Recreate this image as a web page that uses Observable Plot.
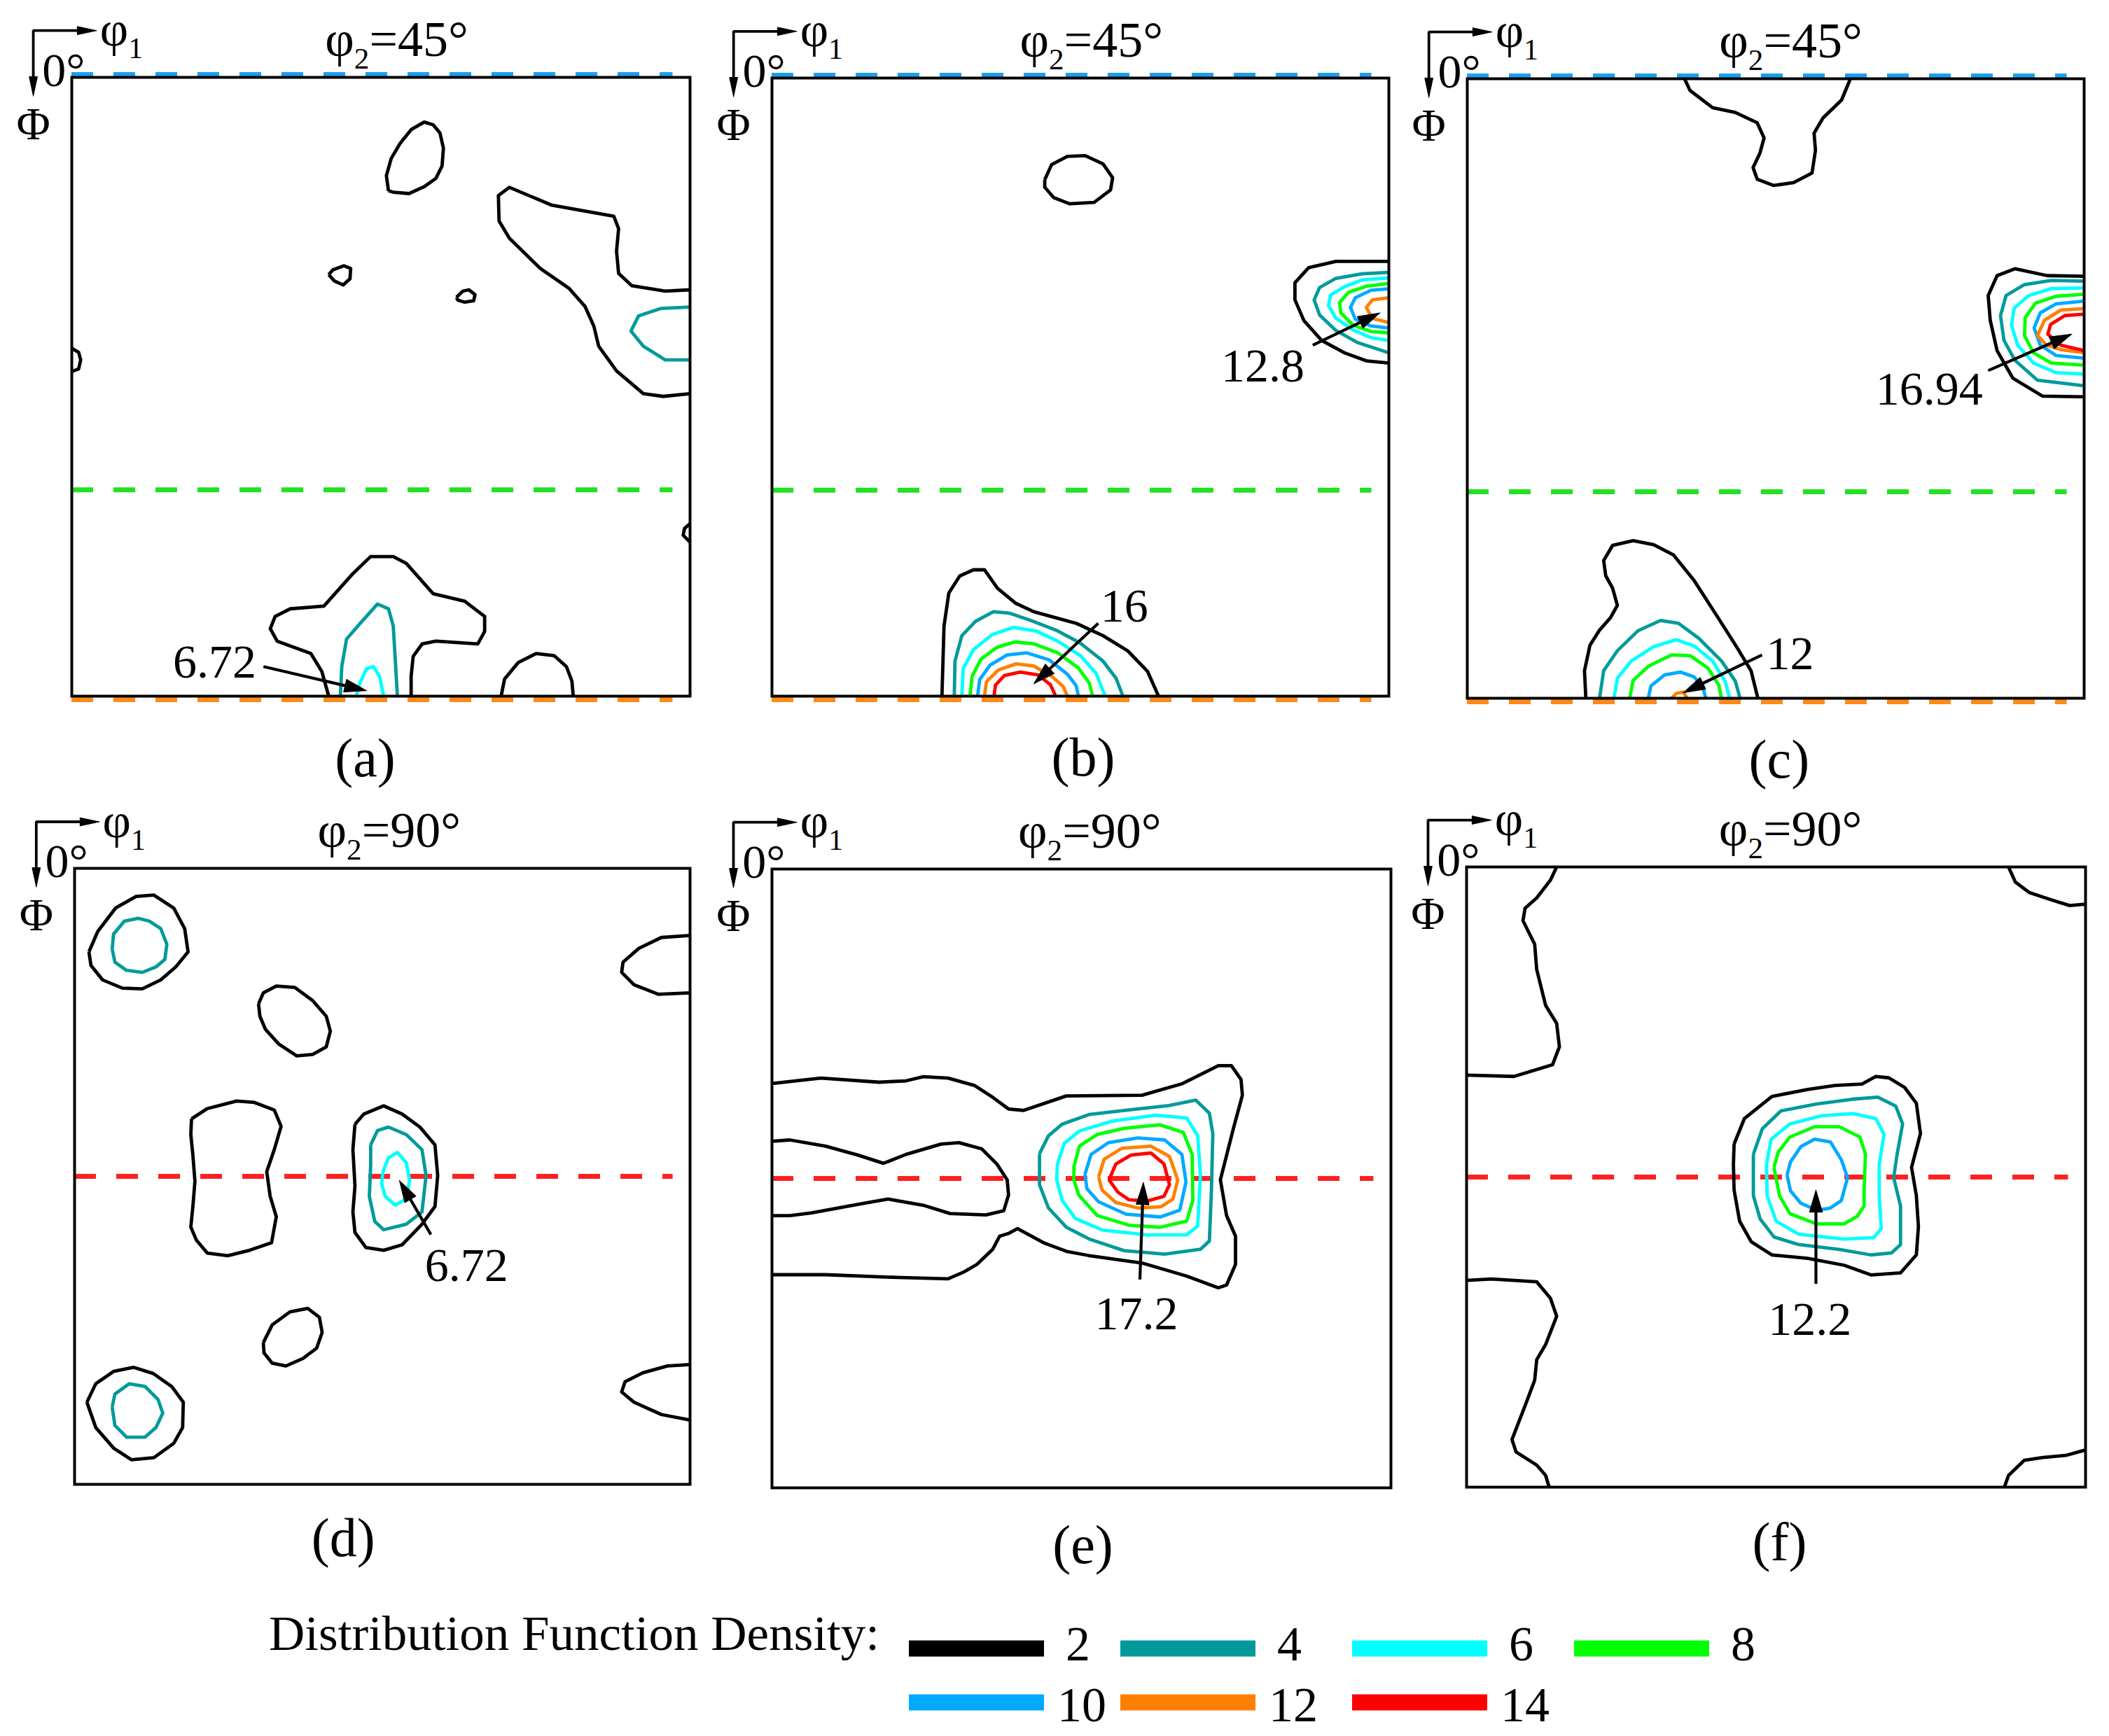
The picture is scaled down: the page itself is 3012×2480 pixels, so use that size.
<!DOCTYPE html>
<html><head><meta charset="utf-8">
<script src="https://cdn.jsdelivr.net/npm/d3@7"></script>
<script src="https://cdn.jsdelivr.net/npm/@observablehq/plot@0.6"></script>
<style>
html,body{margin:0;padding:0;background:#fff;}
#page{position:relative;width:3012px;height:2480px;background:#fff;overflow:hidden;font-family:"Liberation Serif","Times New Roman",serif;}
.panel{position:absolute;}
.panel svg{max-width:none !important;}
</style></head><body><div id="page"></div>
<script>
// ---------------- DATA ----------------
const levels = [2, 4, 6, 8, 10, 12, 14];
const levelColors = ["#000000", "#009a9a", "#00ffff", "#00ff00", "#00aaff", "#ff8000", "#ff0000"];
const panelIds = ["a", "b", "c", "d", "e", "f"];
const phi2Values = ["45°", "45°", "45°", "90°", "90°", "90°"];

// reference lines (Φ in degrees)
const guideLines = [
  {panel: "a", phi: 0, kind: "top"}, {panel: "a", phi: 60, kind: "gamma"}, {panel: "a", phi: 90, kind: "bottom"},
  {panel: "b", phi: 0, kind: "top"}, {panel: "b", phi: 60, kind: "gamma"}, {panel: "b", phi: 90, kind: "bottom"},
  {panel: "c", phi: 0, kind: "top"}, {panel: "c", phi: 60, kind: "gamma"}, {panel: "c", phi: 90, kind: "bottom"},
  {panel: "d", phi: 45, kind: "mid"}, {panel: "e", phi: 45, kind: "mid"}, {panel: "f", phi: 45, kind: "mid"}
];

// contour polylines: points are [φ1, Φ] in degrees
const contoursA = [
  {level: 2, closed: true, pts: [[46.1,16.5],[45.8,14.3],[46.5,11.8],[47.8,9.6],[49.4,7.6],[51.3,6.5],[52.6,6.9],[53.6,8.1],[54.1,10.3],[53.9,12.9],[53.0,14.7],[51.3,15.9],[49.1,16.9],[46.8,16.7]]},
  {level: 2, closed: false, pts: [[90,30.9],[86.4,31.1],[81.5,30.3],[79.6,28.5],[79.3,25.3],[79.6,22.0],[78.9,20.2],[69.9,18.6],[63.7,16.0],[62.1,17.2],[62.2,20.9],[63.7,23.4],[68.2,27.8],[72.4,30.7],[74.7,33.3],[76.0,36.2],[76.7,39.1],[79.3,42.7],[83.2,46.0],[86.1,46.4],[90,46.0]]},
  {level: 4, closed: false, pts: [[90,33.4],[85.8,33.6],[82.5,34.7],[81.4,36.9],[83.2,39.1],[86.4,41.1],[90,41.1]]},
  {level: 2, closed: true, pts: [[37.4,28.7],[38.0,28.0],[39.6,27.4],[40.6,27.8],[40.5,29.3],[39.5,30.2],[38.2,29.6]]},
  {level: 2, closed: true, pts: [[56.0,32.0],[56.9,31.1],[57.8,30.9],[58.7,31.6],[58.5,32.5],[57.2,32.7],[56.2,32.4]]},
  {level: 2, closed: false, pts: [[0,39.4],[1.0,40.0],[1.3,41.1],[1.0,42.4],[0,42.8]]},
  {level: 2, closed: false, pts: [[90,64.9],[89.2,65.6],[89.0,66.6],[90,67.6]]},
  {level: 2, closed: false, pts: [[37.4,90],[36.4,86.4],[34.8,83.8],[29.9,82.0],[28.9,80.2],[29.6,78.4],[31.8,77.3],[36.7,76.9],[40.9,72.2],[43.5,69.7],[46.8,69.7],[48.7,70.7],[52.6,75.1],[57.2,76.2],[60.1,78.4],[60.1,80.6],[59.1,82.4],[53.0,82.0],[51.0,82.4],[49.7,84.2],[49.4,87.1],[49.4,90]]},
  {level: 4, closed: false, pts: [[39.1,90],[39.3,85.7],[40.0,81.7],[41.9,79.5],[44.5,76.6],[46.1,77.3],[46.8,79.8],[47.1,84.9],[47.4,90]]},
  {level: 6, closed: false, pts: [[41.4,90],[41.9,88.2],[42.9,86.0],[43.9,85.7],[44.8,87.1],[45.4,90]]},
  {level: 2, closed: false, pts: [[62.5,90],[63.0,87.5],[65.0,85.1],[67.6,83.8],[70.2,84.1],[72.0,85.7],[72.8,87.8],[73.0,90]]}
];
const contoursB = [
  {level: 2, closed: true, pts: [[39.8,14.8],[40.8,12.6],[43.1,11.4],[45.7,11.3],[48.3,12.5],[49.7,14.5],[49.4,16.3],[47.0,18.1],[43.4,18.3],[41.1,17.4],[39.8,15.9]]},
  {level: 2, closed: false, pts: [[90,26.7],[82.3,26.7],[78.3,27.6],[76.3,29.8],[76.3,32.3],[77.6,35.3],[80.2,38.2],[83.5,40.0],[86.8,41.2],[90,41.5]]},
  {level: 4, closed: false, pts: [[90,28.3],[86.1,28.5],[82.2,29.2],[79.9,30.5],[79.1,32.3],[79.9,34.5],[82.2,36.7],[85.4,38.5],[90,40.0]]},
  {level: 6, closed: false, pts: [[90,29.1],[86.1,29.4],[83.5,30.4],[81.5,31.6],[81.2,33.1],[82.2,34.9],[84.8,36.7],[87.4,37.8],[90,38.2]]},
  {level: 8, closed: false, pts: [[90,29.9],[86.8,30.3],[84.1,31.2],[82.8,32.7],[83.0,34.2],[84.8,36.0],[87.4,36.9],[90,37.1]]},
  {level: 10, closed: false, pts: [[90,30.7],[87.4,30.9],[85.1,32.0],[84.4,33.4],[85.1,35.1],[87.4,36.1],[90,36.4]]},
  {level: 12, closed: false, pts: [[90,32.0],[87.6,32.3],[86.7,33.4],[87.6,35.0],[90,35.6]]},
  {level: 2, closed: false, pts: [[24.8,90],[25.1,79.8],[25.8,75.0],[27.4,72.5],[29.4,71.6],[31.0,71.6],[32.9,74.3],[35.6,76.5],[38.2,77.7],[44.4,79.4],[48.3,81.2],[51.9,83.4],[54.8,86.4],[56.4,90]]},
  {level: 4, closed: false, pts: [[26.6,90],[26.7,84.9],[27.7,81.2],[29.7,79.1],[32.3,77.7],[34.6,77.9],[37.8,79.0],[41.7,80.5],[45.0,82.3],[48.3,84.9],[50.2,87.4],[51.2,90]]},
  {level: 6, closed: false, pts: [[27.7,90],[27.9,86.0],[29.4,83.2],[32.2,81.0],[35.2,80.0],[38.5,80.5],[41.7,82.0],[45.0,84.1],[47.3,86.7],[48.6,90]]},
  {level: 8, closed: false, pts: [[28.9,90],[29.2,87.1],[30.5,84.6],[32.8,82.9],[35.4,82.1],[38.3,82.4],[41.7,83.7],[44.7,85.9],[46.3,88.1],[46.8,90]]},
  {level: 10, closed: false, pts: [[30.0,90],[30.3,87.6],[31.8,85.5],[34.3,84.0],[37.2,83.7],[40.4,84.7],[43.1,86.8],[44.4,88.5],[44.7,90]]},
  {level: 12, closed: false, pts: [[31.0,90],[31.3,87.9],[33.0,86.2],[35.6,85.3],[38.2,85.6],[40.8,87.1],[42.5,88.6],[43.1,90]]},
  {level: 14, closed: false, pts: [[32.4,90],[32.6,88.4],[33.9,87.0],[36.2,86.5],[38.8,86.9],[40.6,88.3],[41.4,90]]}
];
const contoursC = [
  {level: 2, closed: false, pts: [[31.7,0],[32.5,1.7],[35.8,4.2],[39.1,4.9],[42.3,6.4],[43.3,8.6],[42.7,10.8],[41.7,12.9],[42.3,14.6],[44.7,15.5],[47.6,15.1],[50.3,13.7],[50.8,10.4],[50.6,7.9],[51.9,5.7],[54.6,3.1],[55.9,0]]},
  {level: 2, closed: false, pts: [[90,28.7],[84.6,28.6],[79.9,27.6],[77.3,28.6],[76.0,31.5],[76.3,35.1],[77.3,39.5],[79.6,43.5],[83.9,46.1],[90,46.2]]},
  {level: 4, closed: false, pts: [[90,29.4],[85.2,29.3],[81.3,29.9],[78.6,31.5],[77.8,34.4],[78.3,38.0],[79.9,40.9],[83.2,43.8],[90,44.6]]},
  {level: 6, closed: false, pts: [[90,30.4],[85.2,30.5],[81.9,31.5],[79.8,33.3],[79.4,35.8],[80.3,38.7],[82.6,41.3],[85.9,42.7],[90,42.9]]},
  {level: 8, closed: false, pts: [[90,31.3],[85.9,31.6],[82.9,32.6],[81.4,34.7],[81.3,37.3],[82.6,39.8],[85.2,41.3],[90,41.6]]},
  {level: 10, closed: false, pts: [[90,32.3],[85.9,32.7],[83.6,34.0],[82.7,36.2],[83.6,38.7],[85.9,40.2],[90,40.6]]},
  {level: 12, closed: false, pts: [[90,33.4],[86.6,33.6],[84.2,35.1],[83.2,37.3],[84.5,38.7],[86.8,39.4],[90,39.8]]},
  {level: 14, closed: false, pts: [[90,34.2],[87.2,34.4],[85.1,35.7],[84.7,37.1],[86.6,38.7],[90,39.5]]},
  {level: 2, closed: false, pts: [[17.3,90],[17.1,86.0],[17.9,82.3],[19.3,80.1],[20.9,78.3],[21.9,76.5],[21.2,74.0],[20.2,72.2],[19.9,70.0],[21.2,67.8],[24.2,67.1],[27.2,67.7],[30.1,69.2],[33.1,72.9],[36.4,78.0],[39.4,82.7],[41.4,86.0],[42.4,90]]},
  {level: 4, closed: false, pts: [[19.3,90],[19.9,86.0],[21.9,83.1],[24.9,80.2],[28.2,78.7],[30.8,79.1],[33.8,81.3],[37.1,84.6],[39.1,87.5],[39.8,90]]},
  {level: 6, closed: false, pts: [[21.4,90],[21.9,87.1],[23.9,84.6],[27.2,82.5],[30.5,81.5],[33.1,82.4],[35.8,84.6],[37.6,87.5],[38.3,90]]},
  {level: 8, closed: false, pts: [[23.7,90],[24.2,87.4],[26.5,85.3],[29.8,83.7],[32.5,83.8],[35.1,85.6],[36.7,88.1],[37.1,90]]},
  {level: 10, closed: false, pts: [[26.4,90],[26.8,88.2],[28.8,86.6],[31.1,86.2],[33.1,86.9],[34.4,88.5],[34.8,90]]},
  {level: 12, closed: false, pts: [[29.8,90],[30.5,89.3],[31.5,89.1],[32.1,90]]}
];
const contoursD = [
  {level: 2, closed: true, pts: [[2.1,12.2],[3.4,9.2],[6.0,5.8],[9.0,4.1],[11.6,3.9],[14.5,5.8],[16.1,8.8],[16.6,12.2],[14.8,14.4],[12.6,16.3],[9.9,17.6],[7.0,17.5],[4.1,16.3],[2.4,14.2]]},
  {level: 4, closed: true, pts: [[5.5,11.8],[5.7,9.6],[7.3,7.7],[9.3,7.3],[10.9,7.7],[12.6,8.8],[13.5,11.1],[13.2,13.3],[11.9,14.4],[9.9,15.2],[7.6,14.9],[5.9,13.7]]},
  {level: 2, closed: true, pts: [[26.9,19.8],[27.6,18.2],[29.5,17.2],[32.2,17.4],[34.8,19.3],[36.8,21.6],[37.4,23.8],[36.8,26.1],[34.8,27.2],[32.5,27.4],[29.9,25.7],[27.9,23.5],[27.1,21.6]]},
  {level: 2, closed: false, pts: [[90,9.8],[85.8,10.1],[82.5,11.7],[80.2,13.7],[80.0,15.2],[81.8,17.0],[85.4,18.4],[90,18.2]]},
  {level: 2, closed: true, pts: [[17.1,36.6],[19.4,35.1],[23.7,34.0],[26.3,34.2],[29.2,35.3],[30.2,37.7],[29.2,41.1],[28.1,44.3],[28.6,47.9],[29.5,50.9],[28.8,54.7],[25.6,55.8],[22.4,56.6],[19.4,56.2],[17.8,54.3],[17.0,52.4],[17.3,49.4],[17.6,45.7],[17.3,41.9],[17.0,38.9]]},
  {level: 2, closed: true, pts: [[41.0,37.4],[42.3,35.9],[45.2,34.7],[47.9,35.9],[50.5,37.8],[52.7,40.4],[53.1,44.9],[52.7,49.4],[50.8,52.0],[47.9,55.0],[45.2,55.8],[42.6,55.4],[41.0,53.2],[40.7,50.2],[41.0,46.4],[40.7,41.1]]},
  {level: 4, closed: true, pts: [[43.3,40.4],[44.3,38.3],[45.9,37.8],[48.5,38.9],[50.8,41.1],[51.4,44.9],[50.8,50.2],[48.5,52.0],[45.2,52.8],[43.9,51.6],[43.1,47.9],[43.3,43.4]]},
  {level: 6, closed: true, pts: [[45.1,44.3],[45.9,42.3],[47.2,41.5],[48.5,43.0],[49.0,45.6],[48.5,48.3],[46.9,49.2],[45.4,47.9],[44.9,46.0]]},
  {level: 2, closed: true, pts: [[27.6,69.3],[28.9,66.7],[31.5,64.8],[34.1,64.3],[35.8,65.6],[36.2,67.8],[35.4,70.1],[33.4,71.6],[30.9,72.7],[28.9,72.3],[27.7,70.8]]},
  {level: 2, closed: true, pts: [[1.8,78.0],[3.1,75.3],[5.7,73.5],[8.6,72.9],[11.5,73.8],[14.2,75.7],[15.9,78.0],[15.8,81.7],[14.5,84.0],[11.6,86.1],[8.3,86.4],[5.7,84.7],[3.1,81.7]]},
  {level: 4, closed: true, pts: [[5.5,78.7],[5.9,76.8],[8.0,75.3],[10.3,75.7],[12.2,77.6],[12.9,79.6],[11.9,81.7],[10.3,83.1],[7.6,83.1],[5.9,81.4]]},
  {level: 2, closed: false, pts: [[90,72.5],[86.7,72.7],[83.1,73.7],[80.5,75.0],[80.0,76.5],[81.8,78.0],[85.8,79.8],[90,80.6]]}
];
const contoursE = [
  {level: 2, closed: false, pts: [[0,31.2],[7.1,30.4],[15.6,31.0],[19.5,30.8],[22.0,30.2],[25.6,30.4],[29.5,31.5],[32.1,33.2],[34.4,34.9],[36.6,35.1],[42.8,33.0],[53.8,32.9],[59.7,31.2],[64.9,28.6],[66.8,28.6],[68.2,30.6],[68.4,32.9],[67.1,37.7],[65.2,45.2],[66.1,50.4],[67.4,53.4],[67.4,57.5],[66.1,60.5],[64.9,60.9],[60.3,59.2],[53.8,57.3],[46.0,56.2],[42.8,55.6],[39.6,54.4],[35.7,52.3],[34.4,53.0],[33.1,53.4],[32.1,55.3],[29.8,57.5],[27.9,58.6],[25.6,59.6],[18.2,59.4],[7.8,59.0],[0,59.0]]},
  {level: 2, closed: false, pts: [[0,39.6],[2.6,39.4],[7.8,40.3],[12.5,41.6],[16.2,42.8],[19.5,41.5],[24.6,40.0],[27.2,39.8],[30.5,40.7],[32.7,42.9],[34.2,45.2],[34.4,47.4],[33.7,49.7],[31.1,50.3],[25.9,50.1],[22.0,48.9],[16.9,48.0],[12.3,48.8],[5.8,50.0],[2.6,50.4],[0,50.4]]},
  {level: 4, closed: true, pts: [[38.9,41.4],[40.2,38.8],[42.2,37.1],[46.1,35.7],[51.2,35.1],[57.7,34.4],[61.6,33.6],[63.6,35.5],[64.1,38.5],[63.9,46.7],[63.6,54.1],[62.3,55.3],[57.1,56.0],[51.2,55.5],[46.1,53.8],[42.8,52.1],[40.2,49.3],[38.9,45.9]]},
  {level: 6, closed: true, pts: [[41.5,42.9],[42.5,39.9],[44.7,38.1],[49.3,36.7],[55.8,35.8],[60.3,36.2],[61.9,38.8],[62.3,44.4],[61.9,51.9],[60.3,53.2],[54.5,53.2],[48.0,52.5],[44.1,50.8],[42.2,48.2],[41.4,45.2]]},
  {level: 8, closed: true, pts: [[43.9,43.3],[44.7,40.3],[47.3,38.6],[51.2,37.7],[56.4,37.2],[59.8,38.3],[61.1,41.5],[61.2,48.2],[60.3,51.2],[56.4,52.1],[51.9,51.8],[47.3,50.4],[44.6,47.4],[43.9,45.2]]},
  {level: 10, closed: true, pts: [[45.5,44.4],[46.4,41.5],[48.9,39.8],[53.2,39.1],[57.1,39.4],[59.6,41.5],[60.2,45.5],[59.3,49.6],[56.5,50.6],[51.5,50.2],[47.5,48.4],[45.8,46.5]]},
  {level: 12, closed: true, pts: [[47.5,44.8],[48.3,42.2],[50.9,40.6],[55.1,40.3],[57.8,41.8],[59.0,45.2],[58.3,48.0],[56.6,49.1],[53.2,49.3],[50.0,48.5],[48.0,46.7]]},
  {level: 14, closed: true, pts: [[49.0,45.2],[50.0,42.9],[52.2,41.6],[55.1,41.3],[57.0,42.9],[57.8,45.9],[57.0,47.6],[54.5,48.3],[51.9,48.1],[50.3,47.0]]}
];
const contoursF = [
  {level: 2, closed: false, pts: [[13.1,0],[12.2,1.9],[10.2,4.5],[8.5,6.0],[8.2,7.8],[9.9,11.2],[10.2,14.9],[11.5,20.1],[13.1,22.7],[13.5,26.1],[12.5,28.7],[6.9,30.4],[0,30.2]]},
  {level: 2, closed: false, pts: [[0,60.0],[3.6,59.8],[10.2,60.2],[12.2,62.6],[13.1,65.2],[11.5,69.3],[10.2,71.5],[9.9,74.5],[8.5,78.2],[6.6,83.1],[7.2,84.9],[10.2,86.8],[11.5,88.3],[12.0,90]]},
  {level: 2, closed: false, pts: [[78.8,0],[79.8,2.2],[81.8,3.7],[85.1,4.8],[87.7,5.6],[90,5.4]]},
  {level: 2, closed: false, pts: [[78.2,90],[78.8,88.3],[81.1,86.1],[83.8,85.7],[87.1,85.4],[90,84.6]]},
  {level: 2, closed: true, pts: [[38.9,40.2],[40.4,36.5],[44.4,33.3],[49.6,32.3],[53.6,31.7],[57.5,31.5],[59.5,30.4],[61.4,30.6],[63.7,32.0],[65.4,34.3],[66.0,38.7],[64.7,43.6],[65.4,47.7],[65.7,52.2],[65.4,56.3],[63.1,58.9],[58.8,59.2],[54.9,57.8],[49.6,56.8],[44.4,56.3],[41.4,54.4],[39.7,51.4],[38.9,46.9],[38.8,43.2]]},
  {level: 4, closed: true, pts: [[41.7,41.7],[43.0,38.0],[45.7,35.4],[50.9,34.4],[56.1,33.7],[59.8,33.4],[62.4,34.7],[63.4,37.3],[62.6,41.7],[62.1,45.1],[63.1,49.2],[63.1,54.8],[61.8,56.0],[58.8,56.3],[54.2,55.5],[48.3,54.8],[44.7,53.7],[42.7,51.1],[41.7,47.7]]},
  {level: 6, closed: true, pts: [[43.6,43.2],[44.3,39.5],[47.0,37.3],[51.6,36.1],[56.2,35.8],[59.5,36.5],[60.7,38.8],[60.0,43.2],[60.0,47.7],[60.3,52.5],[59.2,53.8],[54.9,54.0],[48.3,53.3],[45.0,51.4],[43.7,47.7]]},
  {level: 8, closed: true, pts: [[44.7,43.6],[45.3,41.4],[47.0,39.2],[50.6,37.7],[54.2,37.7],[57.2,39.2],[58.0,41.7],[57.8,47.0],[57.8,49.2],[56.8,50.7],[54.9,51.8],[50.9,51.8],[47.0,50.3],[45.5,47.7]]},
  {level: 10, closed: true, pts: [[46.6,44.7],[47.1,42.8],[48.6,40.6],[50.6,39.5],[52.9,39.9],[54.5,42.5],[55.4,45.1],[54.5,48.4],[52.9,49.5],[50.9,49.8],[48.6,48.8],[47.1,47.0]]}
];
const contoursByPanel = {a: contoursA, b: contoursB, c: contoursC, d: contoursD, e: contoursE, f: contoursF};

// peak annotations: label position (tx, ty baseline) and arrow (x1,y1)->(x2,y2)
const annotations = [
  {panel: "a", label: "6.72",  tx: 20.8, ty: 87.3, x1: 27.9, y1: 85.7, x2: 42.9, y2: 89.2},
  {panel: "b", label: "12.8",  tx: 71.6, ty: 44.2, x1: 78.9, y1: 38.9, x2: 88.7, y2: 34.2},
  {panel: "b", label: "16",    tx: 51.4, ty: 79.1, x1: 47.6, y1: 79.4, x2: 38.2, y2: 88.2},
  {panel: "c", label: "16.94", tx: 67.4, ty: 47.3, x1: 76.0, y1: 42.4, x2: 88.2, y2: 37.1},
  {panel: "c", label: "12",    tx: 47.1, ty: 85.8, x1: 43.0, y1: 83.7, x2: 31.5, y2: 89.2},
  {panel: "d", label: "6.72",  tx: 57.3, ty: 60.3, x1: 52.1, y1: 53.5, x2: 47.5, y2: 45.6},
  {panel: "e", label: "17.2",  tx: 53.0, ty: 66.9, x1: 53.5, y1: 59.7, x2: 54.0, y2: 45.6},
  {panel: "f", label: "12.2",  tx: 49.9, ty: 67.9, x1: 50.8, y1: 60.5, x2: 50.8, y2: 46.9}
];

// ---------------- LAYOUT / STYLE ----------------
const frames = {
  a: [102, 110, 985, 994], b: [1102, 111, 1983, 994], c: [2095, 112, 2976, 997],
  d: [106, 1240, 985, 2120], e: [1102, 1241, 1986, 2125], f: [2094, 1238, 2978, 2124]
};
const panelLabelPos = {a: [42.7, 101.7], b: [45.4, 101.6], c: [45.5, 101.5], d: [39.3, 100.5], e: [45.2, 100.9], f: [45.5, 100.6]};
const headerX = {a: 47.3, b: 46.6, c: 47.2, d: 46.0, e: 46.2, f: 47.1};
const guideStyle = {
  top: {stroke: "#1a9ff0", dy: -4}, gamma: {stroke: "#22e022", dy: 0},
  bottom: {stroke: "#ff8a1a", dy: 5}, mid: {stroke: "#ff2020", dy: 0}
};
const FONT = "'Liberation Serif','Times New Roman',serif";
const SVGNS = "http://www.w3.org/2000/svg";

function arrowParts(id, x1, y1, x2, y2, len, half) {
  const dx = x2 - x1, dy = y2 - y1, L = Math.hypot(dx, dy);
  const ux = dx / L, uy = dy / L, px = -uy, py = ux;
  const bx = x2 - ux * len, by = y2 - uy * len;
  return {
    shaft: {id, x1, y1, x2: bx + ux * 0.4, y2: by + uy * 0.4},
    head: [[x2, y2], [bx + px * half, by + py * half], [bx - px * half, by - py * half], [x2, y2]].map(([x, y]) => ({id, x, y}))
  };
}

function addSubscripts(svg) {
  svg.querySelectorAll("text").forEach(t => {
    const m = t.textContent.match(/^φ(\d)(.*)$/);
    if (!m) return;
    while (t.firstChild) t.removeChild(t.firstChild);
    t.appendChild(document.createTextNode("φ"));
    const sub = document.createElementNS(SVGNS, "tspan");
    sub.setAttribute("dy", "18");
    sub.setAttribute("font-size", "0.6em");
    sub.textContent = m[1];
    t.appendChild(sub);
    if (m[2]) {
      const rest = document.createElementNS(SVGNS, "tspan");
      rest.setAttribute("dy", "-18");
      rest.textContent = m[2];
      t.appendChild(rest);
    }
  });
}

const page = document.getElementById("page");

panelIds.forEach((pid, i) => {
  const [L, T, R, B] = frames[pid];
  const mL = 120, mT = 120, mR = 40, mB = 150;
  const width = R - L + mL + mR, height = B - T + mT + mB;

  const rows = [];
  contoursByPanel[pid].forEach((c, k) => {
    const pts = c.closed ? [...c.pts, c.pts[0]] : c.pts;
    pts.forEach(([x, y]) => rows.push({id: k, level: c.level, x, y}));
  });

  const shafts = [], heads = [];
  annotations.filter(a => a.panel === pid).forEach((a, k) => {
    const p = arrowParts(k, a.x1, a.y1, a.x2, a.y2, 3.2, 0.95);
    shafts.push(p.shaft); heads.push(...p.head);
  });
  // axis-direction arrows (φ1 to the right, Φ downward)
  const cx = -5.6, cy = -6.8;
  const hA = arrowParts(100, cx, cy, 3.6, cy, 2.8, 0.6);
  const vA = arrowParts(101, cx, cy, cx, 2.7, 2.8, 0.6);
  heads.push(...hA.head, ...vA.head);
  const axisPath = [{x: hA.shaft.x2, y: hA.shaft.y2}, {x: cx, y: cy}, {x: vA.shaft.x2, y: vA.shaft.y2}];

  const guideMarks = guideLines.filter(g => g.panel === pid).map(g =>
    Plot.ruleY([g], {y: "phi", x1: 0, x2: 87.5, stroke: guideStyle[g.kind].stroke, strokeWidth: 7,
      strokeDasharray: "31,29", dy: guideStyle[g.kind].dy}));

  const plot = Plot.plot({
    width, height, marginLeft: mL, marginTop: mT, marginRight: mR, marginBottom: mB,
    x: {domain: [0, 90], axis: null},
    y: {domain: [0, 90], reverse: true, axis: null},
    color: {type: "ordinal", domain: levels, range: levelColors},
    style: {background: "transparent", overflow: "visible", fontFamily: FONT},
    marks: [
      ...guideMarks,
      Plot.line(rows, {x: "x", y: "y", z: "id", stroke: "level", strokeWidth: 4.8, strokeLinejoin: "round", strokeLinecap: "butt"}),
      Plot.frame({stroke: "black", strokeWidth: 4}),
      Plot.link(shafts, {x1: "x1", y1: "y1", x2: "x2", y2: "y2", stroke: "black", strokeWidth: 4.2}),
      Plot.line(axisPath, {x: "x", y: "y", stroke: "black", strokeWidth: 3.8, strokeLinejoin: "miter"}),
      Plot.line(heads, {x: "x", y: "y", z: "id", fill: "black", stroke: "black", strokeWidth: 1}),
      Plot.text(annotations.filter(a => a.panel === pid), {x: "tx", y: "ty", text: "label", fontSize: 68, textAnchor: "middle", lineAnchor: "bottom", fill: "black", fontFamily: FONT}),
      Plot.text([{t: "φ2=" + phi2Values[i]}], {x: () => headerX[pid], y: () => -3.1, text: "t", fontSize: 72, textAnchor: "middle", lineAnchor: "bottom", fontFamily: FONT}),
      Plot.text([{t: "φ1"}], {x: () => 4.1, y: () => -4.6, text: "t", fontSize: 70, textAnchor: "start", lineAnchor: "bottom", fontFamily: FONT}),
      Plot.text([{t: "0°"}], {x: () => -4.3, y: () => 1.3, text: "t", fontSize: 68, textAnchor: "start", lineAnchor: "bottom", fontFamily: FONT}),
      Plot.text([{t: "Φ"}], {x: () => -5.6, y: () => 9.0, text: "t", fontSize: 66, textAnchor: "middle", lineAnchor: "bottom", fontFamily: FONT}),
      Plot.text([{t: "(" + pid + ")"}], {x: () => panelLabelPos[pid][0], y: () => panelLabelPos[pid][1], text: "t", fontSize: 78, textAnchor: "middle", lineAnchor: "bottom", fontFamily: FONT})
    ]
  });
  addSubscripts(plot);
  const div = document.createElement("div");
  div.className = "panel";
  div.style.left = (L - mL) + "px";
  div.style.top = (T - mT) + "px";
  div.appendChild(plot);
  page.appendChild(div);
});

// ---------------- LEGEND ----------------
const legendTop = 2250;
const legendCols = [1298, 1600, 1931, 2248];
const legendRowCenter = [2355, 2432];
const legendLabelBase = [2372, 2459];
const legendLabelOff = [224, 212];
const leg = d3.select(page).append("svg")
  .attr("width", 3012).attr("height", 230)
  .style("position", "absolute").style("left", "0px").style("top", legendTop + "px")
  .style("font-family", FONT);
leg.append("text").attr("x", 384).attr("y", 2357 - legendTop).attr("font-size", 70)
  .attr("textLength", 872).attr("lengthAdjust", "spacingAndGlyphs")
  .text("Distribution Function Density:");
levels.forEach((lv, i) => {
  const row = i < 4 ? 0 : 1, col = i < 4 ? i : i - 4;
  leg.append("rect").attr("x", legendCols[col]).attr("y", legendRowCenter[row] - 11.5 - legendTop)
    .attr("width", 193).attr("height", 23).attr("fill", levelColors[i]);
  leg.append("text").attr("x", legendCols[col] + legendLabelOff[row]).attr("y", legendLabelBase[row] - legendTop)
    .attr("font-size", 70).text(lv);
});
</script></body></html>
